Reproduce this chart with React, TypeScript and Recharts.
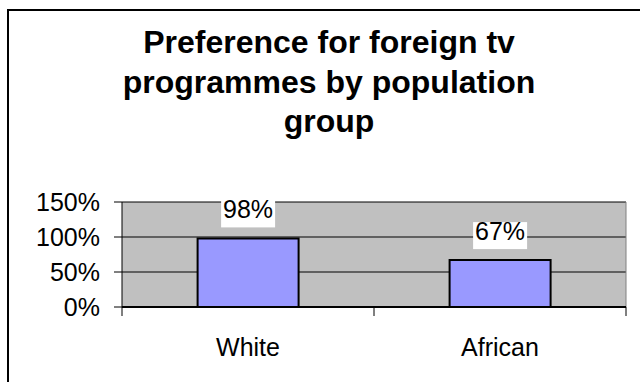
import { BarChart, Bar, XAxis, YAxis, CartesianGrid, LabelList } from 'recharts';

const groups = ['White', 'African'];
const shares = [0.98, 0.67];
const yTicks = [0, 0.5, 1, 1.5];
const titleLines = ['Preference for foreign tv', 'programmes by population', 'group'];

const data = groups.map((g, i) => ({ group: g, value: shares[i] }));

const W = 640;
const H = 382;
const MARGIN = { top: 202, right: 14, bottom: 45, left: 0 };
const Y_AXIS_W = 122;
const X_AXIS_H = 30;
const FONT = '"Liberation Sans", Arial, sans-serif';
const HALF_BAND = (W - MARGIN.left - MARGIN.right - Y_AXIS_W) / groups.length / 2;

const pct = (v: number) => `${Math.round(v * 100)}%`;

function XTick(props: any) {
    const { x, y, payload, index } = props;
    const last = index === groups.length - 1;
    return (
        <g>
            <line x1={x - HALF_BAND} x2={x - HALF_BAND} y1={y} y2={y + 9} stroke="#000" />
            {last && <line x1={x + HALF_BAND} x2={x + HALF_BAND} y1={y} y2={y + 9} stroke="#000" />}
            <text x={x} y={y + 49} textAnchor="middle" fontSize={25} fontFamily={FONT} fill="#000">
                {payload.value}
            </text>
        </g>
    );
}

function ValueLabel(props: any) {
    const { x, y, width, value } = props;
    const cx = x + width / 2;
    return (
        <g>
            <rect x={cx - 27} y={y - 38} width={54} height={27} fill="#fff" />
            <text x={cx} y={y - 20} textAnchor="middle" fontSize={25} fontFamily={FONT} fill="#000">
                {pct(value)}
            </text>
        </g>
    );
}

export default function App() {
    return (
        <div style={{ position: 'absolute', left: 0, top: 0, width: W, height: H, background: '#fff' }}>
            <div
                style={{
                    position: 'absolute',
                    left: 7,
                    top: 9,
                    width: W - 7,
                    height: H - 9,
                    borderTop: '2px solid #000',
                    borderLeft: '2px solid #000',
                    boxSizing: 'border-box',
                }}
            />
            <div
                style={{
                    position: 'absolute',
                    left: 29,
                    top: 23,
                    width: 600,
                    textAlign: 'center',
                    fontFamily: FONT,
                    fontWeight: 'bold',
                    fontSize: 32,
                    lineHeight: '39.5px',
                    color: '#000',
                }}
            >
                {titleLines.map((t) => (
                    <div key={t}>{t}</div>
                ))}
            </div>
            <div style={{ position: 'absolute', left: 0, top: 0 }}>
                <BarChart width={W} height={H} data={data} margin={MARGIN} barCategoryGap="30%">
                    <CartesianGrid fill="#C0C0C0" stroke="#000" vertical={false} />
                    <CartesianGrid
                        horizontal={false}
                        stroke="#808080"
                        verticalCoordinatesGenerator={({ offset }: any) => [offset.left + offset.width]}
                    />
                    <XAxis
                        dataKey="group"
                        height={X_AXIS_H}
                        tickLine={false}
                        tickSize={0}
                        tickMargin={0}
                        tick={<XTick />}
                        axisLine={{ stroke: '#000', strokeWidth: 2 }}
                        interval={0}
                    />
                    <YAxis
                        width={Y_AXIS_W}
                        domain={[0, 1.5]}
                        ticks={yTicks}
                        tickFormatter={pct}
                        tickSize={8}
                        tickMargin={14}
                        tickLine={{ stroke: '#000' }}
                        axisLine={{ stroke: '#000' }}
                        tick={{ fill: '#000', fontSize: 25, fontFamily: FONT }}
                        interval={0}
                    />
                    <Bar dataKey="value" fill="#9999FF" stroke="#000" strokeWidth={2} isAnimationActive={false}>
                        <LabelList dataKey="value" content={<ValueLabel />} />
                    </Bar>
                </BarChart>
            </div>
        </div>
    );
}
